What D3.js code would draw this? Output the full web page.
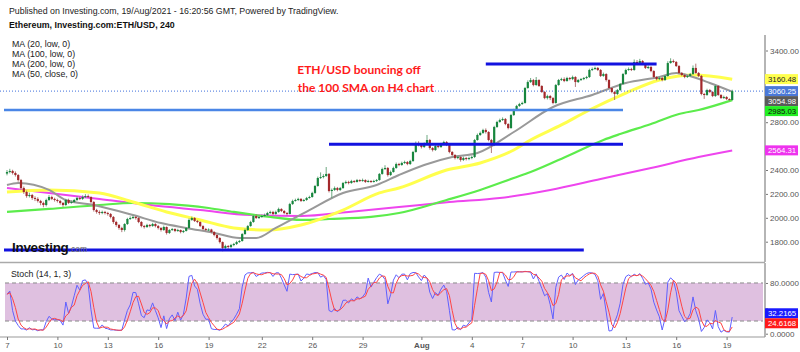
<!DOCTYPE html>
<html>
<head>
<meta charset="utf-8">
<script src="https://cdn.jsdelivr.net/npm/d3@7"></script>
<style>
  body { margin: 0; background: #fff; }
  svg { display: block; font-family: "Liberation Sans", Arial, sans-serif; }
</style>
</head>
<body>
<svg id="chart" width="800" height="352"></svg>
<script>
  // 4h candles, 7 Jul -> 19 Aug 2021 (open of each candle = previous close)
  var firstOpen = 2370
  var closes = [
    2383,2392,2375,2358,2316,2249,2216,2182,2191,2166,
    2158,2141,2124,2107,2149,2174,2158,2149,2141,2124,
    2107,2149,2124,2132,2149,2166,2158,2174,2182,2174,
    2132,2065,2049,2040,2049,2040,2032,2007,1965,1940,
    1915,1898,1948,1990,1998,2007,1998,1965,1931,1923,
    1940,1931,1948,1931,1915,1898,1923,1873,1898,1906,
    1890,1898,1881,1890,1915,1982,1998,1973,1965,1931,
    1906,1898,1902,1881,1856,1831,1797,1747,1764,1756,
    1772,1781,1797,1806,1864,1898,1931,1965,2015,1998,
    2007,2015,2023,2040,2049,2032,2049,2074,2057,2040,
    2032,2115,2141,2149,2158,2141,2149,2166,2174,2208,
    2266,2333,2341,2350,2367,2224,2233,2249,2233,2249,
    2291,2300,2291,2308,2300,2316,2308,2316,2300,2308,
    2300,2308,2316,2367,2408,2417,2358,2383,2417,2450,
    2442,2459,2467,2450,2475,2551,2626,2609,2592,2618,
    2651,2584,2567,2601,2592,2618,2634,2609,2551,2526,
    2500,2509,2484,2500,2492,2500,2509,2651,2693,2710,
    2735,2718,2651,2609,2760,2802,2818,2827,2785,2751,
    2860,2902,2936,2952,2961,3086,3136,3153,3111,3153,
    3103,3053,3002,3019,3002,2961,3111,3153,3161,3145,
    3170,3161,3178,3136,3153,3161,3170,3178,3237,3245,
    3254,3237,3187,3203,3153,3086,3053,3036,3069,3120,
    3203,3237,3245,3237,3304,3295,3312,3287,3254,3262,
    3228,3178,3161,3170,3153,3187,3295,3312,3304,3270,
    3212,3195,3178,3187,3203,3254,3212,3187,3036,3028,
    3069,3053,3019,3103,3028,3002,3011,2994,2986,3060
  ]
  var highs = [
    2400,2410,2402,2388,2366,2325,2262,2228,2210,2200,
    2180,2172,2150,2135,2160,2190,2185,2168,2160,2150,
    2132,2158,2160,2145,2158,2180,2175,2188,2198,2195,
    2180,2140,2075,2062,2060,2058,2050,2040,2015,1975,
    1948,1925,1955,2000,2012,2020,2015,2005,1972,1940,
    1950,1948,1958,1955,1940,1922,1935,1928,1905,1915,
    1912,1908,1902,1898,1922,1995,2010,2005,1982,1970,
    1938,1915,1912,1908,1888,1862,1838,1802,1775,1772,
    1782,1790,1808,1815,1872,1910,1940,1975,2025,2028,
    2018,2026,2035,2050,2060,2058,2060,2085,2080,2065,
    2048,2125,2152,2160,2168,2165,2158,2175,2185,2218,
    2275,2345,2380,2365,2425,2375,2245,2262,2258,2258,
    2300,2312,2310,2318,2315,2325,2322,2328,2322,2318,
    2315,2318,2325,2375,2420,2440,2425,2395,2428,2462,
    2460,2470,2478,2475,2485,2560,2638,2640,2618,2630,
    2693,2660,2592,2612,2615,2628,2645,2642,2615,2558,
    2532,2520,2515,2512,2508,2512,2520,2660,2705,2722,
    2745,2748,2725,2660,2770,2812,2830,2840,2835,2792,
    2870,2912,2945,2962,2972,3095,3150,3170,3162,3178,
    3160,3110,3060,3030,3028,3010,3120,3162,3172,3175,
    3180,3178,3190,3185,3162,3170,3178,3188,3248,3258,
    3265,3262,3245,3215,3210,3160,3092,3062,3078,3128,
    3212,3248,3258,3255,3325,3320,3330,3320,3295,3275,
    3270,3235,3185,3180,3178,3195,3310,3335,3325,3312,
    3278,3220,3205,3195,3212,3275,3290,3220,3195,3045,
    3080,3078,3060,3112,3110,3035,3022,3018,3000,3072
  ]
  var lows = [
    2355,2372,2362,2345,2302,2236,2200,2168,2170,2150,
    2140,2128,2105,2088,2095,2140,2148,2136,2128,2110,
    2092,2100,2115,2118,2125,2140,2148,2150,2165,2165,
    2120,2052,2035,2025,2030,2028,2018,1995,1950,1925,
    1900,1880,1885,1940,1982,1990,1985,1955,1920,1910,
    1915,1920,1925,1920,1902,1885,1890,1860,1865,1890,
    1880,1882,1870,1872,1885,1910,1975,1965,1955,1922,
    1895,1888,1890,1870,1845,1818,1785,1720,1730,1740,
    1745,1762,1772,1790,1800,1858,1890,1925,1958,1990,
    1990,2000,2008,2015,2032,2022,2025,2042,2048,2030,
    2020,2028,2108,2135,2140,2132,2135,2142,2160,2168,
    2200,2260,2325,2330,2342,2212,2165,2225,2222,2225,
    2242,2282,2280,2285,2292,2295,2300,2302,2292,2295,
    2292,2295,2300,2310,2360,2400,2345,2350,2378,2410,
    2432,2435,2450,2440,2442,2468,2545,2598,2580,2585,
    2612,2570,2555,2560,2582,2585,2610,2600,2540,2515,
    2488,2490,2470,2475,2480,2482,2490,2500,2645,2685,
    2702,2705,2640,2542,2600,2752,2795,2810,2775,2740,
    2745,2852,2895,2928,2945,2955,3080,3128,3100,3105,
    3095,3045,2992,2990,2985,2950,2955,3105,3145,3135,
    3138,3150,3152,3095,3128,3145,3152,3160,3170,3228,
    3238,3228,3178,3180,3140,3078,3042,2986,3028,3060,
    3112,3195,3230,3228,3230,3285,3288,3278,3245,3245,
    3218,3168,3150,3152,3142,3145,3180,3290,3295,3262,
    3200,3185,3168,3170,3178,3195,3205,3178,3025,2995,
    3020,3045,3010,3012,3020,2995,2995,2985,2978,2980
  ]

  // moving averages: [candle index, price]
  var ma20 = [[0,2274],[4,2291],[15,2233],[21,2149],[31,2107],[45,2023],[55,1956],[64,1915],[74,1873],[83,1831],[89,1831],[96,1915],[108,2065],[120,2208],[132,2274],[140,2358],[149,2442],[159,2509],[168,2542],[181,2718],[195,2927],[209,3028],[221,3128],[233,3178],[239,3212],[245,3178],[251,3128],[259,3055]]
  var ma50 = [[0,2216],[15,2233],[33,2208],[45,2132],[57,2049],[69,1982],[81,1915],[93,1898],[105,1940],[120,2065],[133,2208],[140,2249],[157,2400],[169,2459],[181,2567],[187,2651],[198,2777],[208,2902],[221,3044],[233,3153],[245,3195],[259,3160]]
  var ma100 = [[0,2049],[15,2074],[33,2107],[45,2124],[58,2115],[72,2082],[81,2049],[94,2007],[105,1982],[115,1990],[130,2007],[140,2040],[157,2149],[169,2233],[181,2333],[187,2383],[201,2526],[213,2651],[219,2701],[230,2785],[240,2869],[247,2902],[259,2985]]
  var ma200 = [[0,2249],[15,2208],[33,2158],[51,2107],[69,2065],[87,2023],[105,2015],[122,2049],[140,2090],[158,2132],[176,2166],[194,2233],[212,2325],[230,2417],[247,2509],[259,2564]]

  // drawn support / resistance levels
  var levelPrice = [3287, 2902, 2615, 1731]
  var levelFrom = [171, 0, 115, 0]
  var levelTo = [232, 220, 220, 206]

  var maNames = ['MA (20, low, 0)', 'MA (100, low, 0)', 'MA (200, low, 0)', 'MA (50, close, 0)']
  var priceTicks = [1800, 2000, 2200, 2400, 2600, 2800, 3000, 3200, 3400]
  var stochTicks = [0, 40, 80]
  var dayIdx = [0, 18, 36, 54, 72, 91, 109, 127, 148, 166, 184, 202, 221, 239, 257]
  var dayText = ['7', '10', '13', '16', '19', '22', '26', '29', 'Aug', '4', '7', '10', '13', '16', '19']

  var lastPrice = 3060.25
  var lastMA = [3160.48, 3060.25, 3054.98, 2985.03, 2564.31]
  var lastStoch = [32.2165, 24.6168]

  var svg = d3.select('#chart')
  var n = closes.length
  var opens = [firstOpen].concat(closes.slice(0, n - 1))

  var x = d3.scaleLinear().domain([0, n - 1]).range([7, 732.2])
  var y = d3.scaleLinear().domain([1800, 3400]).range([241.7, 50.5])
  var ys = d3.scaleLinear().domain([0, 100]).range([333.7, 270.3])
  var axisX = 765

  // ---- header texts
  svg.append('text').attr('x', 9).attr('y', 14).attr('font-size', 8.8).attr('fill', '#222')
    .text('Published on Investing.com, 19/Aug/2021 - 16:20:56 GMT, Powered by TradingView.')
  svg.append('text').attr('x', 9).attr('y', 28).attr('font-size', 8.8).attr('font-weight', 'bold').attr('fill', '#111')
    .text('Ethereum, Investing.com:ETH/USD, 240')
  svg.selectAll('.leg').data(maNames).enter().append('text')
    .attr('x', 12).attr('y', function(d, i) { return 47 + i * 10 })
    .attr('font-size', 8.8).attr('fill', '#222').text(function(d) { return d })

  // ---- main pane
  svg.append('clipPath').attr('id', 'mainclip').append('rect')
    .attr('x', 0).attr('y', 35).attr('width', axisX).attr('height', 227)
  var g = svg.append('g').attr('clip-path', 'url(#mainclip)')

  var lineFn = d3.line()
    .x(function(d) { return x(d[0]) })
    .y(function(d) { return y(d[1]) })
    .curve(d3.curveMonotoneX)

  var maStyles = [
    { data: ma200, color: '#ee45ee', w: 2 },
    { data: ma100, color: '#5cec4c', w: 2.2 },
    { data: ma50, color: '#ffff4d', w: 3 },
    { data: ma20, color: '#999999', w: 2 }
  ]
  maStyles.forEach(function(s) {
    g.append('path').attr('d', lineFn(s.data)).attr('fill', 'none')
      .attr('stroke', s.color).attr('stroke-width', s.w)
  })

  // last price dotted line
  g.append('line').attr('x1', 0).attr('x2', axisX)
    .attr('y1', y(lastPrice)).attr('y2', y(lastPrice))
    .attr('stroke', '#3f6fdc').attr('stroke-width', 1).attr('stroke-dasharray', '1,2')

  // candles
  var cg = g.selectAll('.candle').data(closes).enter().append('g')
  cg.append('line')
    .attr('x1', function(d, i) { return x(i) }).attr('x2', function(d, i) { return x(i) })
    .attr('y1', function(d, i) { return y(highs[i]) }).attr('y2', function(d, i) { return y(lows[i]) })
    .attr('stroke', function(d, i) { return d >= opens[i] ? '#5f9f74' : '#a86a6a' })
    .attr('stroke-width', 0.9)
  cg.append('rect')
    .attr('x', function(d, i) { return x(i) - 1.1 })
    .attr('width', 2.2)
    .attr('y', function(d, i) { return y(Math.max(d, opens[i])) })
    .attr('height', function(d, i) { return Math.max(1, Math.abs(y(d) - y(opens[i]))) })
    .attr('fill', function(d, i) { return d >= opens[i] ? '#17863e' : '#a3282b' })

  // level lines
  var levelColor = ['#1212e0', '#4a86e6', '#1212e0', '#1212e0']
  var levelWidth = [3, 2.5, 3, 3]
  g.selectAll('.level').data(levelPrice).enter().append('line')
    .attr('x1', function(d, i) { return levelFrom[i] === 0 ? 4 : x(levelFrom[i]) })
    .attr('x2', function(d, i) { return x(levelTo[i]) })
    .attr('y1', function(d) { return y(d) }).attr('y2', function(d) { return y(d) })
    .attr('stroke', function(d, i) { return levelColor[i] })
    .attr('stroke-width', function(d, i) { return levelWidth[i] })

  // Investing logo
  var logo = g.append('text').attr('x', 12).attr('y', 252)
  logo.append('tspan').attr('font-size', 13.5).attr('font-weight', 900).attr('fill', '#111')
    .attr('letter-spacing', -0.3).text('Investing')
  logo.append('tspan').attr('font-size', 8.5).attr('fill', '#666').text('.com')

  // annotation
  var note = svg.append('text').attr('text-anchor', 'middle').attr('font-family', 'Lato, "Open Sans", sans-serif')
    .attr('font-size', 12).attr('font-weight', 'bold').attr('fill', '#ff1a1a')
  note.append('tspan').attr('x', 359).attr('y', 73.5).text('ETH/USD bouncing off')
  note.append('tspan').attr('x', 366).attr('y', 91.5).text('the 100 SMA on H4 chart')

  // value badges (collision-shifted like the platform does)
  function placeBadges(vals, scale, gap) {
    var pos = vals.map(function(v, i) { return { i: i, v: v, c: scale(v) } })
      .sort(function(a, b) { return a.c - b.c })
    for (var k = 1; k < pos.length; k++) {
      if (pos[k].c - pos[k - 1].c < gap) pos[k].c = pos[k - 1].c + gap
    }
    return pos
  }
  function freeTicks(ticks, scale, badges) {
    return ticks.filter(function(t) {
      return badges.every(function(b) { return Math.abs(scale(t) - b.c) > 8 })
    })
  }

  // price axis
  var bp = placeBadges(lastMA, y, 10)
  var pAxis = svg.append('g').attr('transform', 'translate(' + axisX + ',0)')
    .call(d3.axisRight(y).tickValues(priceTicks).tickFormat(d3.format('.2f')).tickSize(3).tickPadding(2))
  pAxis.select('.domain').remove()
  pAxis.selectAll('line').attr('stroke', '#777')
  var shownP = freeTicks(priceTicks, y, bp)
  pAxis.selectAll('text').attr('font-size', 8).attr('fill', '#555').attr('font-family', '"Liberation Sans", Arial')
    .style('display', function(d) { return shownP.indexOf(d) < 0 ? 'none' : null })
  svg.append('line').attr('x1', axisX).attr('x2', axisX).attr('y1', 35).attr('y2', 262)
    .attr('stroke', '#b5b5b5').attr('stroke-width', 2)

  var badgeFill = ['#ffff4d', '#4a78d8', '#5a5a5a', '#22ee22', '#ee33ee']
  var badgeText = ['#222', '#fff', '#fff', '#111', '#fff']
  var bg = svg.selectAll('.badge').data(bp).enter().append('g')
  bg.append('rect').attr('x', axisX).attr('y', function(d) { return d.c - 5 })
    .attr('width', 33).attr('height', 10).attr('fill', function(d) { return badgeFill[d.i] })
  bg.append('text').attr('x', axisX + 3).attr('y', function(d) { return d.c + 3 })
    .attr('font-size', 7.8).attr('fill', function(d) { return badgeText[d.i] })
    .text(function(d) { return d.v.toFixed(2) })

  // ---- separator
  svg.append('line').attr('x1', 0).attr('x2', axisX).attr('y1', 262.5).attr('y2', 262.5)
    .attr('stroke', '#aaa').attr('stroke-width', 1.5)

  // ---- stochastic (14, 1, 3) from the candles
  var kVals = closes.map(function(c, i) {
    var from = Math.max(0, i - 13)
    var hh = d3.max(highs.slice(from, i + 1)), ll = d3.min(lows.slice(from, i + 1))
    return hh === ll ? 50 : 100 * (c - ll) / (hh - ll)
  })
  var dVals = kVals.map(function(k, i) { return d3.mean(kVals.slice(Math.max(0, i - 2), i + 1)) })

  svg.append('rect').attr('x', 5).attr('width', axisX - 7)
    .attr('y', ys(80)).attr('height', ys(20) - ys(80)).attr('fill', '#dfc0e0')
  ;[80, 20].forEach(function(v) {
    svg.append('line').attr('x1', 5).attr('x2', axisX - 2).attr('y1', ys(v)).attr('y2', ys(v))
      .attr('stroke', '#8a8a8a').attr('stroke-dasharray', '4,3')
  })
  var sLine = d3.line().x(function(d, i) { return x(i) }).y(function(d) { return ys(d) })
  svg.append('path').attr('d', sLine(kVals)).attr('fill', 'none').attr('stroke', '#6060ff').attr('stroke-width', 1)
  svg.append('path').attr('d', sLine(dVals)).attr('fill', 'none').attr('stroke', '#ff4545').attr('stroke-width', 1)

  svg.append('text').attr('x', 11).attr('y', 276.5).attr('font-size', 8.8).attr('fill', '#222').text('Stoch (14, 1, 3)')

  var sp = placeBadges(lastStoch, ys, 10)
  var sAxis = svg.append('g').attr('transform', 'translate(' + axisX + ',0)')
    .call(d3.axisRight(ys).tickValues(stochTicks).tickFormat(d3.format('.4f')).tickSize(3).tickPadding(2))
  sAxis.select('.domain').remove()
  sAxis.selectAll('line').attr('stroke', '#777')
  var shownS = freeTicks(stochTicks, ys, sp)
  sAxis.selectAll('text').attr('font-size', 8).attr('fill', '#555').attr('font-family', '"Liberation Sans", Arial')
    .style('display', function(d) { return shownS.indexOf(d) < 0 ? 'none' : null })
  svg.append('line').attr('x1', axisX).attr('x2', axisX).attr('y1', 263).attr('y2', 337)
    .attr('stroke', '#b5b5b5').attr('stroke-width', 2)

  var sFill = ['#1a1aff', '#ff1a1a']
  var sg = svg.selectAll('.sbadge').data(sp).enter().append('g')
  sg.append('rect').attr('x', axisX).attr('y', function(d) { return d.c - 5 })
    .attr('width', 33).attr('height', 10).attr('fill', function(d) { return sFill[d.i] })
  sg.append('text').attr('x', axisX + 3).attr('y', function(d) { return d.c + 3 })
    .attr('font-size', 7.8).attr('fill', '#fff').text(function(d) { return d.v.toFixed(4) })

  // ---- time axis
  var tAxis = svg.append('g').attr('transform', 'translate(0,337)')
    .call(d3.axisBottom(x).tickValues(dayIdx).tickFormat(function(d, i) { return dayText[i] }).tickSize(3).tickPadding(2))
  tAxis.select('.domain').attr('d', 'M0,0H' + axisX).attr('stroke', '#999')
  tAxis.selectAll('line').attr('stroke', '#777')
  tAxis.selectAll('text').attr('font-size', 8).attr('fill', '#555').attr('font-family', '"Liberation Sans", Arial')
    .attr('font-weight', function(d, i) { return dayText[i] === 'Aug' ? 'bold' : 'normal' })
</script>
</body>
</html>
